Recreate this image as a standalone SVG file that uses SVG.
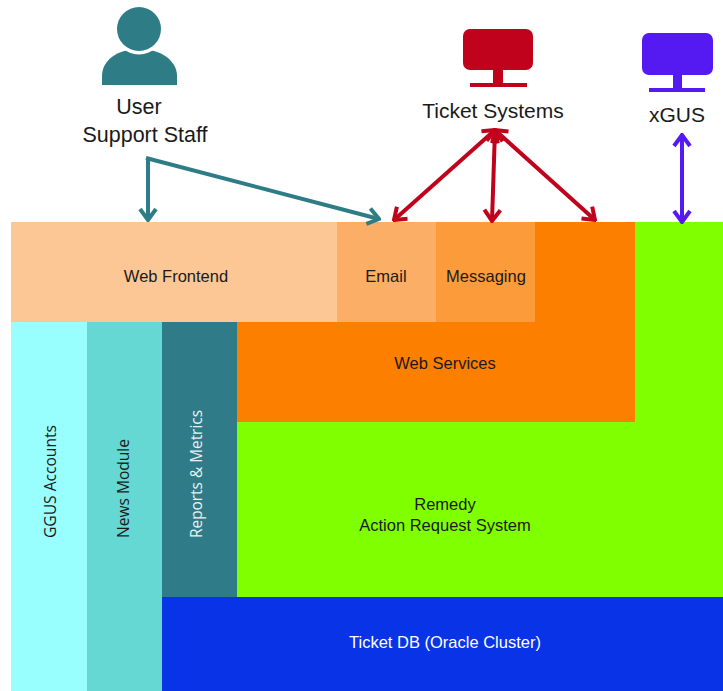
<svg xmlns="http://www.w3.org/2000/svg" width="723" height="691" viewBox="0 0 723 691">
<defs>
<style>
.lbl{font-family:"Liberation Sans",Arial,sans-serif;font-size:16.5px;fill:#1a1a1a;text-anchor:middle}
.vl{font-family:"Open Sans","Liberation Sans",Arial,sans-serif;font-size:17px;fill:#1a1a1a;text-anchor:start}
.big{font-family:"Liberation Sans",Arial,sans-serif;font-size:21px;fill:#1a1a1a;text-anchor:middle}
.teal{stroke:#2E7D86;stroke-width:4;fill:none}
.red{stroke:#C0021C;stroke-width:4;fill:none}
.pur{stroke:#5519F2;stroke-width:4;fill:none}
</style>
<marker id="mt" markerUnits="userSpaceOnUse" viewBox="-14 -10 16 20" refX="0" refY="0" markerWidth="16" markerHeight="20" orient="auto-start-reverse">
<path d="M-11,-8 L0,0 L-11,8" fill="none" stroke="#2E7D86" stroke-width="4" stroke-linejoin="miter"/>
</marker>
<marker id="mr" markerUnits="userSpaceOnUse" viewBox="-14 -10 16 20" refX="0" refY="0" markerWidth="16" markerHeight="20" orient="auto-start-reverse">
<path d="M-11,-8 L0,0 L-11,8" fill="none" stroke="#C0021C" stroke-width="4"/>
</marker>
<marker id="mp" markerUnits="userSpaceOnUse" viewBox="-14 -10 16 20" refX="0" refY="0" markerWidth="16" markerHeight="20" orient="auto-start-reverse">
<path d="M-11,-8 L0,0 L-11,8" fill="none" stroke="#5519F2" stroke-width="4"/>
</marker>
</defs>
<rect width="723" height="691" fill="#ffffff"/>

<g id="remedy">
<path d="M635,222 H723 V597 H237 V422 H635 Z" fill="#80FF00"/>
<text class="lbl" x="445" y="510">Remedy</text>
<text class="lbl" x="445" y="531">Action Request System</text>
</g>
<g id="web-services">
<path d="M535,222 H635 V422 H237 V322 H535 Z" fill="#FC7F00"/>
<text class="lbl" x="445" y="369">Web Services</text>
</g>
<g id="web-frontend">
<rect x="11" y="222" width="326" height="100" fill="#FDC795"/>
<text class="lbl" x="176" y="282">Web Frontend</text>
</g>
<g id="email">
<rect x="337" y="222" width="99" height="100" fill="#FBAE66"/>
<text class="lbl" x="386" y="282">Email</text>
</g>
<g id="messaging">
<rect x="436" y="222" width="99" height="100" fill="#FC9B3A"/>
<text class="lbl" x="486" y="282">Messaging</text>
</g>
<g id="ggus-accounts">
<rect x="11" y="322" width="76" height="369" fill="#99FFFE"/>
<text class="vl" transform="translate(56,538) rotate(-90)" textLength="113" lengthAdjust="spacingAndGlyphs">GGUS Accounts</text>
</g>
<g id="news-module">
<rect x="87" y="322" width="75" height="369" fill="#66D8D4"/>
<text class="vl" transform="translate(129,538) rotate(-90)" textLength="99" lengthAdjust="spacingAndGlyphs">News Module</text>
</g>
<g id="reports-metrics">
<rect x="162" y="322" width="75" height="275" fill="#2F7B87"/>
<text class="vl" transform="translate(202,538) rotate(-90)" textLength="128" lengthAdjust="spacingAndGlyphs" style="fill:#E6F2F2">Reports &amp; Metrics</text>
</g>
<g id="ticket-db">
<rect x="162" y="597" width="561" height="94" fill="#0833E6"/>
<text class="lbl" x="445" y="648" style="fill:#ffffff">Ticket DB (Oracle Cluster)</text>
</g>

<g id="user-support-staff">
<path d="M102,85 V76 C102,60 118,49 139,49 C160,49 177,60 177,76 V85 Z" fill="#2E7D86"/>
<circle cx="139" cy="29" r="25.5" fill="#ffffff"/>
<circle cx="139" cy="29" r="22" fill="#2E7D86"/>
<text class="big" x="139" y="114" style="font-size:21.5px">User</text>
<text class="big" x="145" y="142" style="font-size:21.5px">Support Staff</text>
</g>
<g id="ticket-systems">
<rect x="463" y="29" width="70" height="41" rx="7" fill="#C0021C"/>
<rect x="493" y="69" width="10" height="15" fill="#C0021C"/>
<rect x="470" y="83" width="57" height="4" fill="#C0021C"/>
<text class="big" x="493" y="118">Ticket Systems</text>
</g>
<g id="xgus">
<rect x="642" y="33" width="71" height="42" rx="7" fill="#5519F2"/>
<rect x="673" y="74" width="9" height="15" fill="#5519F2"/>
<rect x="649" y="88" width="56" height="4" fill="#5519F2"/>
<text class="big" x="677" y="122">xGUS</text>
</g>

<g id="connectors">
<path class="teal" d="M148,158 V220" marker-end="url(#mt)"/>
<path class="teal" d="M146,158 L379,219" marker-end="url(#mt)"/>
<path class="red" d="M495,130 L394,220" marker-start="url(#mr)" marker-end="url(#mr)"/>
<path class="red" d="M495,130 L492,221" marker-start="url(#mr)" marker-end="url(#mr)"/>
<path class="red" d="M495,130 L595,220" marker-start="url(#mr)" marker-end="url(#mr)"/>
<path class="pur" d="M682,135 V222" marker-start="url(#mp)" marker-end="url(#mp)"/>
</g>
</svg>
